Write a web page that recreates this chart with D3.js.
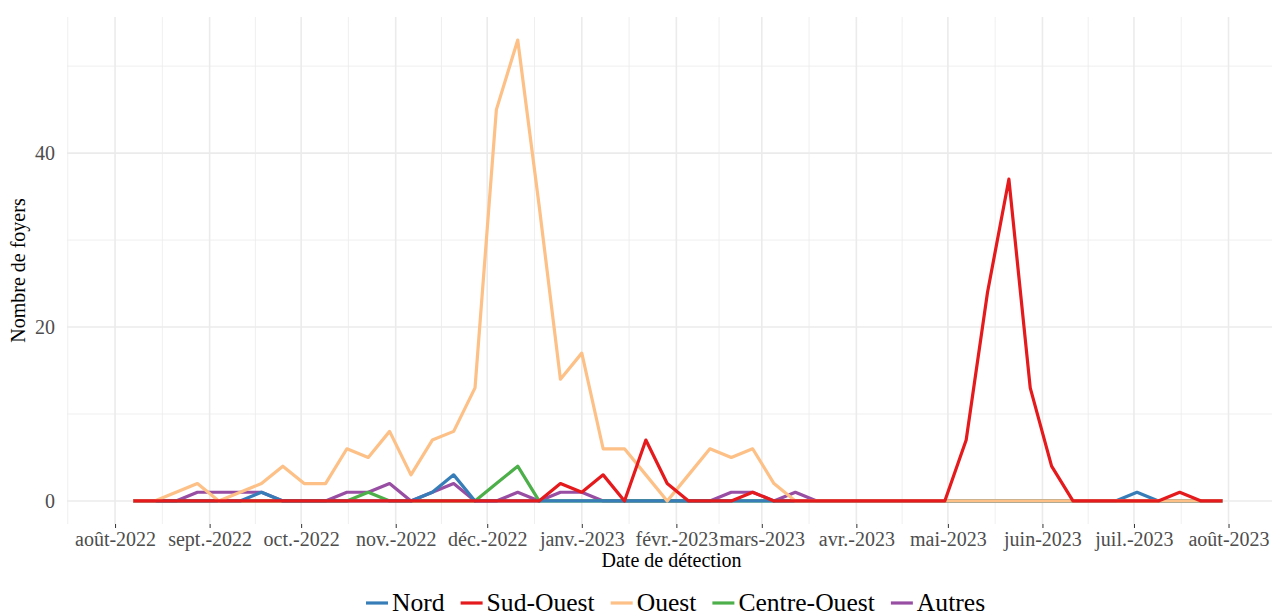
<!DOCTYPE html>
<html>
<head>
<meta charset="utf-8">
<script src="https://cdn.jsdelivr.net/npm/d3@7"></script>
<style>
  body { margin: 0; background: #fff; }
  svg { display: block; font-family: "Liberation Serif", "Times New Roman", serif; }
</style>
</head>
<body>
<div id="chart"></div>
<script>
// weekly counts, week starting 2022-08-07
const weekStart = new Date(2022, 7, 7);
const nWeeks = 52;

const regions = ['Nord', 'Sud-Ouest', 'Ouest', 'Centre-Ouest', 'Autres'];
const colors = ['#377EB8', '#E41A1C', '#FDC086', '#4DAF4A', '#984EA3'];

const nord = [0,0,0,0,0,0,1,0,0,0, 0,0,0,0,1,3,0,0,0,0, 0,0,0,0,0,0,0,0,0,0, 0,0,0,0,0,0,0,0,0,0, 0,0,0,0,0,0,0,1,0,0, 0,0];
const sudOuest = [0,0,0,0,0,0,0,0,0,0, 0,0,0,0,0,0,0,0,0,0, 2,1,3,0,7,2,0,0,0,1, 0,0,0,0,0,0,0,0,0,7, 24,37,13,4,0,0,0,0,0,1, 0,0];
const ouest = [0,0,1,2,0,1,2,4,2,2, 6,5,8,3,7,8,13,45,53,34, 14,17,6,6,3,0,3,6,5,6, 2,0,0,0,0,0,0,0,0,0, 0,0,0,0,0,0,0,0,0,0, 0,0];
const centreOuest = [0,0,0,0,0,0,0,0,0,0, 0,1,0,0,0,0,0,2,4,0, 0,0,0,0,0,0,0,0,0,0, 0,0,0,0,0,0,0,0,0,0, 0,0,0,0,0,0,0,0,0,0, 0,0];
const autres = [0,0,0,1,1,1,1,0,0,0, 1,1,2,0,1,2,0,0,1,0, 1,1,0,0,0,0,0,0,1,1, 0,1,0,0,0,0,0,0,0,0, 0,0,0,0,0,0,0,0,0,0, 0,0];

const seriesValues = [nord, sudOuest, ouest, centreOuest, autres];
const monthTicks = d3.timeMonth.range(new Date(2022, 7, 1), new Date(2023, 7, 2));
const yTicks = [0, 20, 40];
const yMinor = [10, 30, 50];

const W = 1272, H = 616;
const panel = {left: 67, right: 1272, top: 17, bottom: 524};

const dates = d3.timeWeek.range(weekStart, d3.timeWeek.offset(weekStart, nWeeks));

const x = d3.scaleTime()
  .domain([new Date(2022, 6, 16, 6), new Date(2023, 7, 15, 6)])
  .range([panel.left, panel.right]);
const y = d3.scaleLinear()
  .domain([-2.65, 55.65])
  .range([panel.bottom, panel.top]);

const svg = d3.select('#chart').append('svg')
  .attr('width', W).attr('height', H);

// grid
const minorX = [];
const allMonths = d3.timeMonth.range(new Date(2022, 6, 1), new Date(2023, 8, 2));
for (let i = 0; i < allMonths.length - 1; i++) {
  minorX.push(new Date((+allMonths[i] + +allMonths[i + 1]) / 2));
}
const grid = svg.append('g');
grid.selectAll('.vminor').data(minorX.filter(d => x(d) >= panel.left - 1 && x(d) <= panel.right))
  .enter().append('line')
  .attr('x1', d => x(d)).attr('x2', d => x(d))
  .attr('y1', panel.top).attr('y2', panel.bottom)
  .attr('stroke', '#EBEBEB').attr('stroke-width', 0.8);
grid.selectAll('.hminor').data(yMinor).enter().append('line')
  .attr('x1', panel.left).attr('x2', panel.right)
  .attr('y1', d => y(d)).attr('y2', d => y(d))
  .attr('stroke', '#EBEBEB').attr('stroke-width', 0.8);
grid.selectAll('.vmajor').data(monthTicks).enter().append('line')
  .attr('x1', d => x(d)).attr('x2', d => x(d))
  .attr('y1', panel.top).attr('y2', panel.bottom)
  .attr('stroke', '#EBEBEB').attr('stroke-width', 1.6);
grid.selectAll('.hmajor').data(yTicks).enter().append('line')
  .attr('x1', panel.left).attr('x2', panel.right)
  .attr('y1', d => y(d)).attr('y2', d => y(d))
  .attr('stroke', '#EBEBEB').attr('stroke-width', 1.6);

// axes
const fmt = d => {
  const m = ['janv.', 'févr.', 'mars', 'avr.', 'mai', 'juin', 'juil.', 'août', 'sept.', 'oct.', 'nov.', 'déc.'];
  return m[d.getMonth()] + '-' + d.getFullYear();
};
const xAxis = svg.append('g')
  .attr('transform', `translate(0,${panel.bottom})`)
  .call(d3.axisBottom(x).tickValues(monthTicks).tickFormat(fmt).tickSize(4).tickPadding(4));
xAxis.select('.domain').remove();
xAxis.selectAll('line').attr('stroke', '#333333').attr('stroke-width', 1);
xAxis.selectAll('text').attr('fill', '#4D4D4D').style('font-size', '20px')
  .style('font-family', '"Liberation Serif", serif');

const yAxis = svg.append('g')
  .attr('transform', `translate(${panel.left},0)`)
  .call(d3.axisLeft(y).tickValues(yTicks).tickSize(0).tickPadding(12));
yAxis.select('.domain').remove();
yAxis.selectAll('text').attr('fill', '#4D4D4D').style('font-size', '20px')
  .style('font-family', '"Liberation Serif", serif');

svg.append('text')
  .attr('x', (panel.left + panel.right) / 2 + 2).attr('y', 567)
  .attr('text-anchor', 'middle').style('font-size', '20px')
  .text('Date de détection');
svg.append('text')
  .attr('transform', `translate(25,${(panel.top + panel.bottom) / 2}) rotate(-90)`)
  .attr('text-anchor', 'middle').style('font-size', '20px')
  .text('Nombre de foyers');

// lines, drawn in alphabetical order like ggplot groups
const line = d3.line().x((d, i) => x(dates[i])).y(d => y(d));
const drawOrder = regions.map((r, i) => i).sort((a, b) => d3.ascending(regions[a], regions[b]));
svg.append('g').selectAll('path').data(drawOrder).enter().append('path')
  .attr('d', i => line(seriesValues[i]))
  .attr('fill', 'none')
  .attr('stroke', i => colors[i])
  .attr('stroke-width', 3.2)
  .attr('stroke-linejoin', 'round');

// legend
const legend = svg.append('g').attr('transform', 'translate(366,603)');
let lx = 0;
regions.forEach((r, i) => {
  legend.append('line')
    .attr('x1', lx).attr('x2', lx + 22).attr('y1', 0).attr('y2', 0)
    .attr('stroke', colors[i]).attr('stroke-width', 3.2);
  const t = legend.append('text')
    .attr('x', lx + 26).attr('y', 8)
    .style('font-size', '25.6px').text(r);
  lx += 26 + t.node().getComputedTextLength() + 16;
});
</script>
</body>
</html>
